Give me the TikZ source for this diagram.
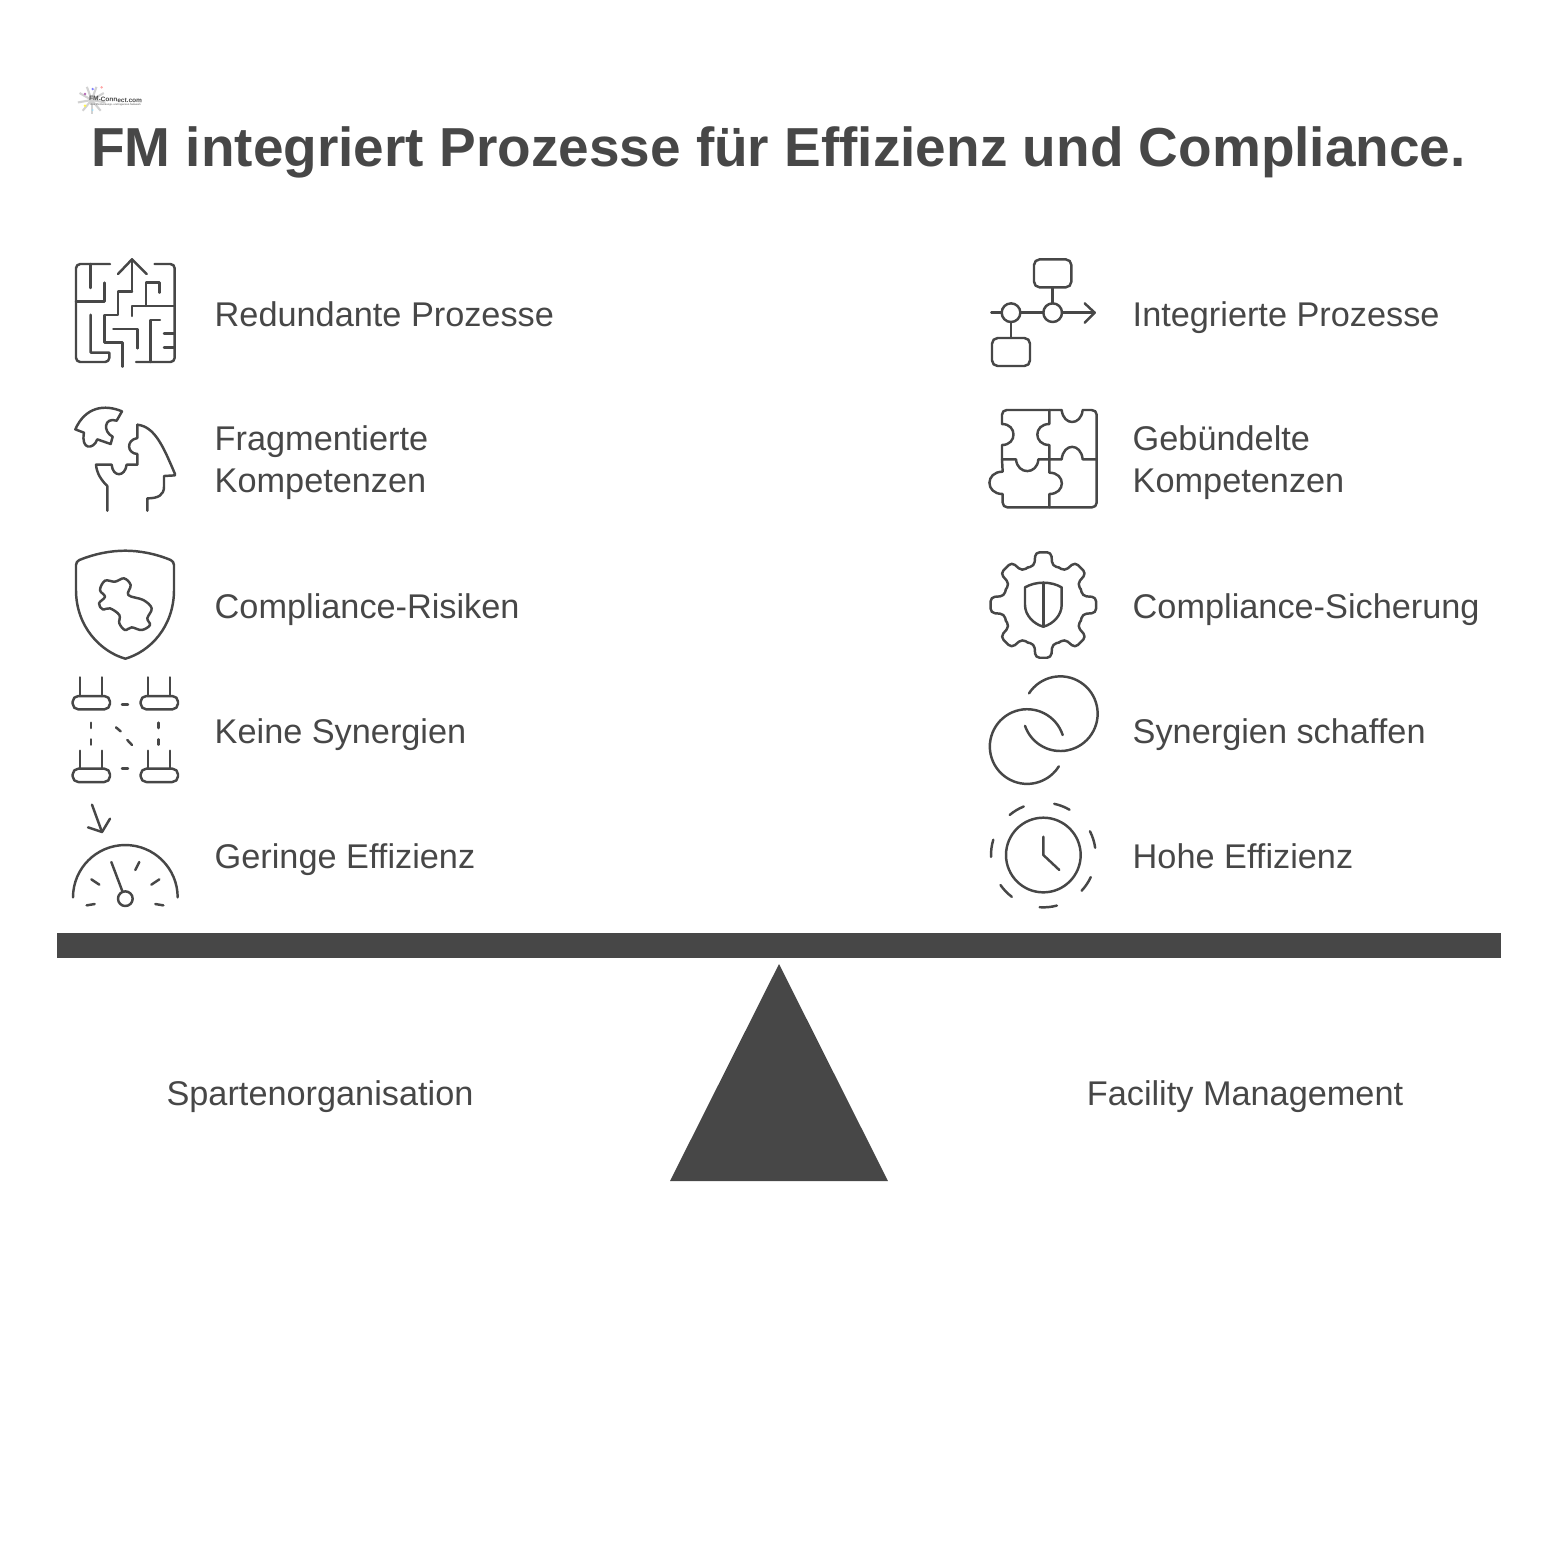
\documentclass[tikz,border=0pt]{standalone}
\usepackage{fontspec}
\usepackage{xcolor}
\setmainfont{Liberation Sans}
\definecolor{inkgray}{HTML}{474747}
\tikzset{
    labeltext/.style={font=\fontsize{9.75pt}{12pt}\selectfont,text=inkgray,inner sep=0pt,align=left},
    labelline/.style={labeltext,text height=8pt,text depth=1pt},
    iconline/.style={draw=inkgray,line width=0.7pt,line cap=round,line join=round},
    iconscope/.style={shift={#1},scale=1/3}
}
\begin{document}
\begin{tikzpicture}[x=0.01cm,y=-0.01cm]
            \useasboundingbox (0, 0) rectangle (1558, 1544);

            % logo
            \begin{scope}[iconscope={(70, 75)}]
                \foreach \a in {10, 50, 90, 130, 170, 210, 250, 290, 330}
                    \draw[gray!35, line width=0.6pt] (65, 75) -- ++(\a:42);
                \fill[violet!60] (45, 57) circle (4);
                \fill[blue!50] (68, 42) circle (4);
                \fill[red!35] (95, 37) circle (4);
                \fill[yellow!70] (45, 92) circle (4);
                \fill[cyan!40] (68, 105) circle (3);
                \node[font=\fontsize{1.85pt}{2pt}\selectfont\bfseries, text=inkgray, inner sep=0pt, rotate=-3] (logoname) at (137, 74) {FM-Connect.com};
                \node[font=\fontsize{0.73pt}{1pt}\selectfont, text=inkgray, inner sep=0pt] (logosub) at (137, 90) {Das FM-Beratungs- und Ingenieur-Netzwerk};
            \end{scope}

            \node[font=\fontsize{15.63pt}{18pt}\selectfont\bfseries, text=inkgray, inner sep=0pt] (title) at (778.5, 152) {FM integriert Prozesse für Effizienz und Compliance.};

            % left column
            \node[labelline, anchor=west] (redundant) at (214, 314) {Redundante Prozesse};
            \node[labeltext, anchor=west] (fragment) at (214, 463) {Fragmentierte\\Kompetenzen};
            \node[labelline, anchor=west] (risiken) at (214, 606) {Compliance-Risiken};
            \node[labelline, anchor=west] (keine) at (214, 731) {Keine Synergien};
            \node[labelline, anchor=west] (geringe) at (214, 856) {Geringe Effizienz};

            % right column
            \node[labelline, anchor=west] (integriert) at (1132, 314) {Integrierte Prozesse};
            \node[labeltext, anchor=west] (gebuendelt) at (1132, 463) {Gebündelte\\Kompetenzen};
            \node[labelline, anchor=west] (sicherung) at (1132, 606) {Compliance-Sicherung};
            \node[labelline, anchor=west] (schaffen) at (1132, 731) {Synergien schaffen};
            \node[labelline, anchor=west] (hohe) at (1132, 856) {Hohe Effizienz};

            % scale
            \fill[inkgray] (57, 933) rectangle (1501, 958);
            \fill[inkgray] (779, 964) -- (888, 1181) -- (670, 1181) -- cycle;
            \node[labelline] (sparte) at (320, 1093) {Spartenorganisation};
            \node[labelline] (fm) at (1245, 1093) {Facility Management};

            % maze and head
            \begin{scope}[iconscope={(60, 250)}]
                \draw[iconline] (150, 42) [rounded corners=1.2pt] -- (48, 42) -- (48, 336) -- (148, 336) [sharp corners] -- (148, 308) -- (92, 308) -- (92, 194);
                \draw[iconline] (92, 42) -- (92, 114);
                \draw[iconline] (48, 154) -- (134, 154) -- (134, 98);
                \draw[iconline] (216, 125) -- (216, 28);
                \draw[iconline] (174, 72) -- (216, 28) -- (260, 72);
                \draw[iconline] (216, 125) -- (174, 125) -- (174, 195) -- (134, 195) -- (134, 278) -- (188, 278) -- (188, 350);
                \draw[iconline, rounded corners=1.2pt] (284, 42) -- (344, 42) -- (344, 336) -- (228, 336);
                \draw[iconline] (298, 128) -- (298, 98) -- (258, 98) -- (258, 168);
                \draw[iconline] (216, 198) -- (216, 168) -- (344, 168);
                \draw[iconline] (160, 237) -- (232, 237) -- (232, 295);
                \draw[iconline] (300, 210) -- (272, 210) -- (272, 336);
                \draw[iconline] (312, 250) -- (344, 250);
                \draw[iconline] (312, 293) -- (344, 293);

                \draw[iconline] (186, 484) .. controls (134, 462) and (76, 470) .. (46, 538) -- (72, 548)
                    .. controls (62, 600) and (100, 600) .. (112, 568) -- (152, 582) -- (158, 560)
                    .. controls (128, 545) and (132, 500) .. (170, 512) -- cycle;
                \draw[iconline] (232, 524) -- (232, 564) .. controls (198, 570) and (200, 610) .. (232, 612) -- (232, 644) -- (200, 644)
                    .. controls (195, 682) and (158, 682) .. (155, 644) -- (108, 644) .. controls (110, 670) and (125, 692) .. (142, 708) -- (142, 782);
                \draw[iconline] (232, 524) .. controls (285, 530) and (310, 590) .. (345, 672) -- (345, 676) -- (312, 678) -- (312, 710) .. controls (312, 735) and (295, 745) .. (262, 745) -- (262, 782);
            \end{scope}

            % shield and plugs
            \begin{scope}[iconscope={(60, 540)}]
                \draw[iconline] (196, 32) .. controls (240, 32) and (290, 42) .. (332, 60) .. controls (338, 63) and (342, 68) .. (342, 75) -- (342, 150)
                    .. controls (342, 260) and (270, 335) .. (196, 356) .. controls (122, 335) and (48, 260) .. (48, 150) -- (48, 75)
                    .. controls (48, 68) and (52, 63) .. (58, 60) .. controls (102, 42) and (150, 32) .. (196, 32);
                \draw[iconline] plot[smooth cycle, tension=0.6] coordinates {(135, 122) (165, 125) (192, 115) (212, 135) (205, 165) (250, 180) (275, 205) (262, 235) (270, 255) (245, 270) (215, 262) (195, 270) (178, 250) (178, 225) (150, 205) (128, 208) (117, 190) (135, 170) (120, 150)};

                \foreach \x/\y in {38/468, 242/468, 38/686, 242/686}
                    \draw[iconline, rounded corners=1.6pt] (\x, \y) rectangle (\x + 112, \y + 40);
                \foreach \x in {60, 126, 264, 330} {
                    \draw[iconline] (\x, 412) -- (\x, 468);
                    \draw[iconline] (\x, 632) -- (\x, 686);
                }
                \draw[iconline] (186, 494) -- (204, 494);
                \draw[iconline] (186, 685) -- (204, 685);
                \draw[iconline] (93, 548) -- (93, 564);
                \draw[iconline] (93, 598) -- (93, 614);
                \draw[iconline] (296, 548) -- (296, 564);
                \draw[iconline] (296, 598) -- (296, 614);
                \draw[iconline] (168, 562) -- (182, 574);
                \draw[iconline] (202, 600) -- (216, 615);
            \end{scope}

            % gauge
            \begin{scope}[iconscope={(60, 790)}]
                \draw[iconline] (96, 44) -- (126, 126);
                \draw[iconline] (84, 112) -- (126, 126) -- (150, 86);
                \draw[iconline] (39, 322) arc[start angle=180, end angle=360, radius=157];
                \draw[iconline] (80, 346) -- (104, 342);
                \draw[iconline] (286, 342) -- (310, 346);
                \draw[iconline] (94, 268) -- (118, 284);
                \draw[iconline] (274, 284) -- (298, 268);
                \draw[iconline] (226, 240) -- (238, 216);
                \draw[iconline] (154, 216) -- (188, 306);
                \draw[iconline] (196, 326) circle (22);
            \end{scope}

            % process and puzzle
            \begin{scope}[iconscope={(980, 250)}]
                \draw[iconline, rounded corners=1.6pt] (162, 28) rectangle (274, 112);
                \draw[iconline, rounded corners=1.6pt] (36, 264) rectangle (150, 348);
                \draw[iconline] (218, 112) -- (218, 160);
                \draw[iconline] (93, 216) -- (93, 264);
                \draw[iconline] (218, 188) circle (28);
                \draw[iconline] (93, 188) circle (28);
                \draw[iconline] (34, 188) -- (65, 188);
                \draw[iconline] (121, 188) -- (190, 188);
                \draw[iconline] (246, 188) -- (344, 188);
                \draw[iconline] (314, 160) -- (344, 188) -- (314, 218);

                \draw[iconline] (66, 628) -- (66, 585) .. controls (112, 585) and (112, 522) .. (66, 522) -- (66, 494) .. controls (66, 486) and (72, 480) .. (80, 480) -- (245, 480)
                    .. controls (250, 528) and (303, 528) .. (308, 480) -- (335, 480) .. controls (344, 480) and (350, 486) .. (350, 494) -- (350, 758)
                    .. controls (350, 766) and (344, 772) .. (336, 772) -- (82, 772) .. controls (74, 772) and (68, 766) .. (68, 758) -- (68, 732)
                    .. controls (15, 732) and (15, 665) .. (68, 665) -- (66, 628);
                \draw[iconline] (208, 480) -- (208, 522) .. controls (160, 522) and (160, 585) .. (208, 585) -- (208, 668)
                    .. controls (258, 668) and (258, 732) .. (208, 732) -- (208, 772);
                \draw[iconline] (66, 628) -- (108, 628) .. controls (112, 675) and (172, 675) .. (175, 628) -- (245, 628)
                    .. controls (250, 578) and (303, 578) .. (308, 628) -- (350, 628);
            \end{scope}

            % gear, rings and clock
            \begin{scope}[iconscope={(980, 540)}]
                \begin{scope}[shift={(190, 195)}]
                    \foreach \a in {0, 45, ..., 315}
                        \draw[iconline, rounded corners=1.2pt] (\a - 22.5:122) -- (\a - 13:120) -- (\a - 8.5:160) -- (\a + 8.5:160) -- (\a + 13:120) -- (\a + 22.5:122);
                \end{scope}
                \draw[iconline] (190, 128) .. controls (170, 128) and (150, 133) .. (135, 142) -- (135, 195) .. controls (135, 225) and (160, 252) .. (190, 260)
                    .. controls (220, 252) and (245, 225) .. (245, 195) -- (245, 142) .. controls (230, 133) and (210, 128) .. (190, 128);
                \draw[iconline] (190, 128) -- (190, 260);

                \draw[iconline] (147, 460) arc[start angle=-147, end angle=161, radius=112];
                \draw[iconline] (248, 585) arc[start angle=-18, end angle=-328, radius=112];

                \draw[iconline] (190, 945 + 112) arc[start angle=90, end angle=450, radius=112];
                \draw[iconline] (190, 890) -- (190, 945) -- (238, 990);
                \begin{scope}[shift={(190, 945)}]
                    \foreach \s/\e in {112/130, 60/78, 8/27, -43/-25, -94/-75, -145/-127, 163/182}
                        \draw[iconline] (-\s:157) arc[start angle=-\s, end angle=-\e, radius=157];
                \end{scope}
            \end{scope}
\end{tikzpicture}
\end{document}
